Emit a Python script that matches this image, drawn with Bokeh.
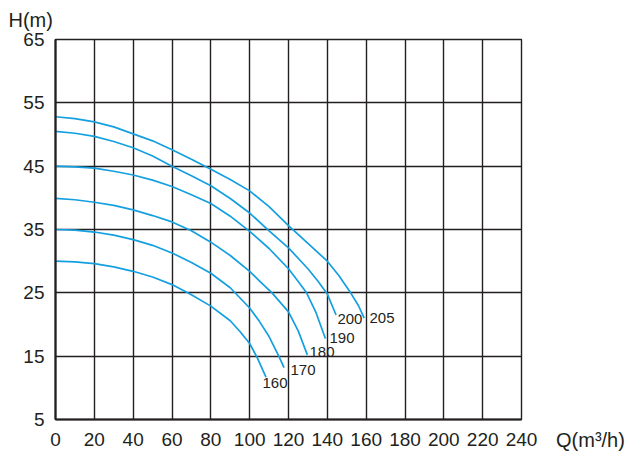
from bokeh.plotting import figure
from bokeh.models import Range1d, FixedTicker, Title, Legend, LegendItem
from bokeh.core.properties import value
from bokeh.embed import file_html
from bokeh.resources import INLINE

# ---- data ----
x_ticks = [0, 20, 40, 60, 80, 100, 120, 140, 160, 180, 200, 220, 240]
y_ticks = [5, 15, 25, 35, 45, 55, 65]

speeds = ["160", "170", "180", "190", "200", "205"]

q_160 = [0, 10, 20, 30, 40, 50, 60, 70, 80, 90, 95, 100, 104, 108.4]
h_160 = [30.0, 29.9, 29.6, 29.1, 28.4, 27.5, 26.3, 24.7, 22.9, 20.6, 18.9, 17.0, 14.7, 11.7]

q_170 = [0, 10, 20, 30, 40, 50, 60, 70, 80, 90, 100, 105, 110, 115, 117.7]
h_170 = [35.0, 34.9, 34.6, 34.1, 33.4, 32.5, 31.3, 29.8, 28.1, 25.8, 22.6, 20.5, 18.1, 15.0, 13.2]

q_180 = [0, 10, 20, 30, 40, 50, 60, 70, 80, 90, 100, 105, 111.5, 120, 125, 129.7]
h_180 = [39.9, 39.7, 39.3, 38.8, 38.1, 37.2, 36.2, 34.8, 33.0, 30.9, 28.4, 26.9, 25.0, 22.0, 19.0, 15.2]

q_190 = [0, 10, 20, 30, 40, 50, 60, 70, 80, 90, 100, 110, 120, 125, 129.3, 134, 139]
h_190 = [45.0, 44.9, 44.7, 44.2, 43.6, 42.8, 41.8, 40.5, 39.1, 37.1, 34.7, 32.0, 28.8, 26.8, 25.0, 22.0, 17.8]

q_200 = [0, 10, 20, 30, 40, 50, 60, 70, 80, 90, 100, 110, 120, 130, 135, 140, 144.5]
h_200 = [50.5, 50.2, 49.7, 48.9, 47.9, 46.6, 45.0, 43.5, 41.9, 39.9, 37.6, 34.8, 32.1, 28.8, 26.9, 24.8, 21.5]

q_205 = [0, 10, 20, 30, 40, 50, 60, 70, 80, 90, 100, 110, 120, 130, 140, 146, 152, 156, 159]
h_205 = [52.8, 52.5, 52.0, 51.2, 50.1, 49.0, 47.6, 46.1, 44.5, 42.9, 41.1, 38.6, 35.6, 32.8, 30.0, 27.7, 25.0, 23.0, 21.0]

label_x = [106.6, 121.0, 130.8, 141.1, 145.2, 161.7]
label_y = [10.8, 12.8, 15.7, 17.9, 20.9, 21.1]

curves_q = [q_160, q_170, q_180, q_190, q_200, q_205]
curves_h = [h_160, h_170, h_180, h_190, h_200, h_205]

y_title = "H(m)"
x_title = "Q(m\u00b3/h)"

# ---- styles ----
INK = "#231f20"
BLUE = "#14a0e0"
FONT = "Liberation Sans"

p = figure(
    title=None,
    frame_width=466, frame_height=380,
    x_range=Range1d(0, 240), y_range=Range1d(5, 65),
    output_backend="svg", toolbar_location=None,
)
p.min_border = 0
p.min_border_left = 55
p.min_border_right = 104
p.min_border_top = 39
p.min_border_bottom = 35
p.background_fill_color = "white"
p.border_fill_color = "white"
p.outline_line_color = INK
p.outline_line_width = 1.4

for ax, ticks in ((p.xaxis[0], x_ticks), (p.yaxis[0], y_ticks)):
    ax.ticker = FixedTicker(ticks=ticks)
    ax.axis_line_color = INK
    ax.axis_line_width = 2.2
    ax.major_tick_out = 0
    ax.major_tick_in = 0
    ax.minor_tick_out = 0
    ax.minor_tick_in = 0
    ax.major_label_text_font = FONT
    ax.major_label_text_font_size = "19px"
    ax.major_label_text_color = INK
p.xaxis.major_label_standoff = 13
p.yaxis.major_label_standoff = 11

p.xgrid.ticker = FixedTicker(ticks=x_ticks)
p.ygrid.ticker = FixedTicker(ticks=y_ticks)
for g in (p.xgrid[0], p.ygrid[0]):
    g.grid_line_color = INK
    g.grid_line_width = 1.4
    g.grid_line_alpha = 1.0

for qs, hs in zip(curves_q, curves_h):
    p.line(qs, hs, line_color=BLUE, line_width=1.7, line_join="round")

p.text(x=label_x, y=label_y, text=speeds,
       text_font=value(FONT), text_font_size="15px", text_color=INK,
       text_align="left", text_baseline="middle")

# axis titles (side-panel annotations so they are not clipped to the frame)
p.add_layout(Title(text=y_title, align="left", offset=-47, standoff=14,
                   vertical_align="top", text_font=FONT,
                   text_font_size="20px", text_font_style="normal",
                   text_color=INK), "above")

leg = Legend(items=[LegendItem(label=value(x_title), renderers=[])],
             location=(35, -33), glyph_width=0, glyph_height=20,
             label_standoff=0, label_height=20, padding=0, margin=0,
             spacing=0, border_line_color=None, background_fill_alpha=0,
             label_text_font=FONT, label_text_font_size="20px",
             label_text_color=INK)
p.add_layout(leg, "right")

open("out.html", "w").write(file_html(p, INLINE))
